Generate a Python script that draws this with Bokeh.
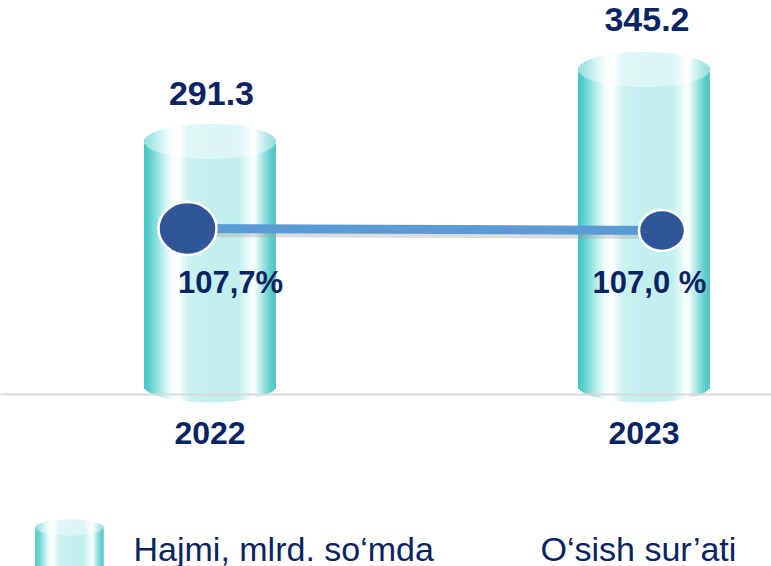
import numpy as np
from bokeh.plotting import figure
from bokeh.models import ColumnDataSource, Range1d, FixedTicker, Span
from bokeh.layouts import column
from bokeh.embed import file_html
from bokeh.resources import INLINE
from bokeh.core.properties import value

# ---------------- data ----------------
years = ["2022", "2023"]
volume = [291.3, 345.2]            # Hajmi, mlrd. so'mda
growth = [107.7, 107.0]            # O'sish sur'ati, %
volume_labels = ["291.3", "345.2"]
growth_labels = ["107,7%", "107,0 %"]
legend_labels = ["Hajmi, mlrd. so‘mda", "O‘sish sur’ati"]

# ---------------- layout / style ----------------
W = 771
H1 = 470
H2 = 96
FRAME_H = 412
Y0, Y1 = 88.4, 396.85         # volume axis range
P0, P1 = 43.3, 187.5          # growth axis range
X0, X1 = -0.4827, 1.2938
AXIS_Y = 101.9                # baseline level
BASE = 108.0                  # cylinder bottom level
PX = FRAME_H / (Y1 - Y0)      # px per volume unit
PXP = FRAME_H / (P1 - P0)     # px per growth unit
XPX = W / (X1 - X0)           # px per x unit
CYL_W = 131 / XPX
NAVY = "#0a2463"
FONT = "Liberation Sans"

STOPS = [
    (0.00, "#3cc4c2"), (0.04, "#5ccfcd"), (0.12, "#a6e8e6"), (0.20, "#effcfc"),
    (0.26, "#ffffff"), (0.34, "#cbf2f1"), (0.50, "#c3efee"), (0.72, "#c3efee"),
    (0.79, "#e6f9f9"), (0.84, "#ffffff"), (0.90, "#abe7e5"), (0.96, "#67d0ce"),
    (1.00, "#4fc3c1"),
]


def _rgb(h):
    return np.array([int(h[i:i + 2], 16) for i in (1, 3, 5)], dtype=float)


def _hex(c):
    c = np.clip(np.round(c), 0, 255).astype(int)
    return "#%02x%02x%02x" % tuple(c)


def profile(u, lighten=0.0):
    for (u0, c0), (u1, c1) in zip(STOPS[:-1], STOPS[1:]):
        if u0 <= u <= u1:
            t = (u - u0) / (u1 - u0)
            c = _rgb(c0) * (1 - t) + _rgb(c1) * t
            c = c * (1 - lighten) + 255 * lighten
            return _hex(c)
    return STOPS[-1][1]


N = 64
U = (np.arange(N) + 0.5) / N
V = 2 * U - 1
CURVE = np.sqrt(np.clip(1 - V ** 2, 0, 1))
BODY_COLS = [profile(u) for u in U]
CAP_COLS = [profile(u, 0.42) for u in U]


def draw_cylinder(fig, cx, width, bottom, top, hb, ht):
    xs = cx + (U - 0.5) * width
    sw = width / N * 1.45
    body = ColumnDataSource(dict(x=xs, b=bottom - hb * CURVE, t=np.full(N, top), c=BODY_COLS))
    fig.vbar(x="x", bottom="b", top="t", width=sw, fill_color="c", line_color=None, source=body)
    cap = ColumnDataSource(dict(x=xs, b=top - ht * CURVE, t=top + ht * CURVE, c=CAP_COLS))
    fig.vbar(x="x", bottom="b", top="t", width=sw, fill_color="c", line_color=None, source=cap)


# ---------------- main chart ----------------
p = figure(width=W, height=H1, output_backend="svg", toolbar_location=None,
           x_range=Range1d(X0, X1), y_range=Range1d(Y0, Y1),
           y_axis_location=None,
           min_border_left=0, min_border_right=0, min_border_top=0,
           min_border_bottom=H1 - FRAME_H)
p.extra_y_ranges = {"pct": Range1d(P0, P1)}
p.xgrid.visible = False
p.ygrid.visible = False
p.outline_line_color = None
p.background_fill_color = "white"

ax = p.xaxis[0]
ax.ticker = FixedTicker(ticks=list(range(len(years))))
ax.major_label_overrides = {i: y for i, y in enumerate(years)}
ax.axis_line_color = None
ax.major_tick_line_color = None
ax.minor_tick_line_color = None
ax.major_tick_out = 0
ax.major_tick_in = 0
ax.major_label_standoff = 9
ax.major_label_text_font = FONT
ax.major_label_text_font_size = "32px"
ax.major_label_text_font_style = "bold"
ax.major_label_text_color = NAVY

p.add_layout(Span(location=AXIS_Y, dimension="width", line_color="#d9d9d9", line_width=2))

cats = np.arange(len(years), dtype=float)
for i in range(len(years)):
    draw_cylinder(p, cats[i], CYL_W, BASE, volume[i], 16 / PX, 17.5 / PX)

# growth line
line_x = [cats[0] - 22.5 / XPX, cats[1] + 18 / XPX]
shadow_y = [g - 3.5 / PXP for g in growth]
p.line(line_x, shadow_y, y_range_name="pct", line_color="#9a9a9a", line_alpha=0.35, line_width=10)
p.line(line_x, growth, y_range_name="pct", line_color="#5b9bd5", line_width=9)
p.ellipse(x=line_x, y=growth, width=[58, 46], height=[53, 41],
          width_units="screen", height_units="screen", y_range_name="pct",
          fill_color="#2f5597", line_color="white", line_width=2.5)

# labels
vsrc = ColumnDataSource(dict(x=cats, y=volume, t=volume_labels, xo=[1.5, 3.0], yo=[-48, -50]))
p.text(x="x", y="y", text="t", x_offset="xo", y_offset="yo", source=vsrc,
       text_font=value(FONT), text_font_size="34px", text_font_style="bold",
       text_color=NAVY, text_align="center", text_baseline="middle")
gsrc = ColumnDataSource(dict(x=cats, y=growth, t=growth_labels, xo=[20.5, 5.5], yo=[54, 52]))
p.text(x="x", y="y", text="t", x_offset="xo", y_offset="yo", source=gsrc, y_range_name="pct",
       text_font=value(FONT), text_font_size="31px", text_font_style="bold",
       text_color=NAVY, text_align="center", text_baseline="middle")

# ---------------- legend strip ----------------
q = figure(width=W, height=H2, output_backend="svg", toolbar_location=None,
           x_range=Range1d(0, W), y_range=Range1d(0, H2),
           x_axis_location=None, y_axis_location=None,
           min_border_left=0, min_border_right=0, min_border_top=0, min_border_bottom=0)
q.xgrid.visible = False
q.ygrid.visible = False
q.outline_line_color = None
draw_cylinder(q, 69, 68, -30, 39, 8, 8)
q.text(x=[133, 540], y=[18, 18], text=legend_labels,
       text_font=value(FONT), text_font_size="34px", text_color=NAVY,
       text_align="left", text_baseline="alphabetic")

layout = column(p, q, spacing=0)
open("out.html", "w").write(file_html(layout, INLINE))
